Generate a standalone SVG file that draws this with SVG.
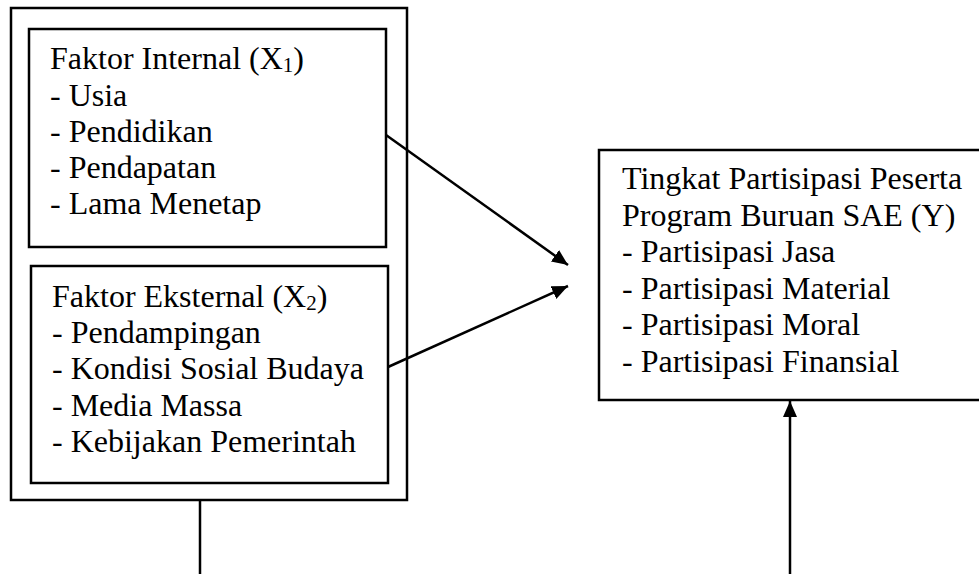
<svg xmlns="http://www.w3.org/2000/svg" width="979" height="574" viewBox="0 0 979 574">
<defs>
<style>
.box{fill:none;stroke:#000;stroke-width:2.5}
.t{font-family:"Liberation Serif","Times New Roman",serif;font-size:32px;fill:#000}
.sub{font-size:21px}
.ln{fill:none;stroke:#000;stroke-width:2.5}
</style>
<marker id="ah" markerUnits="userSpaceOnUse" markerWidth="18" markerHeight="16" refX="16" refY="7" orient="auto">
<path d="M0,0 L16,7 L0,14 Z" fill="#000"/>
</marker>
</defs>
<rect width="979" height="574" fill="#fff"/>
<g id="outer">
<rect class="box" x="11" y="8" width="396" height="492"/>
</g>
<g id="internal">
<rect class="box" x="29" y="29" width="357" height="218"/>
<text class="t" x="50" y="69">Faktor Internal (X<tspan class="sub" dy="3">1</tspan><tspan dy="-3">)</tspan></text>
<text class="t" x="50" y="105.5">- Usia</text>
<text class="t" x="50" y="142">- Pendidikan</text>
<text class="t" x="50" y="178">- Pendapatan</text>
<text class="t" x="50" y="214">- Lama Menetap</text>
</g>
<g id="eksternal">
<rect class="box" x="31" y="266" width="357" height="217"/>
<text class="t" x="52" y="307">Faktor Eksternal (X<tspan class="sub" dy="3">2</tspan><tspan dy="-3">)</tspan></text>
<text class="t" x="52" y="343">- Pendampingan</text>
<text class="t" x="52" y="379">- Kondisi Sosial Budaya</text>
<text class="t" x="52" y="416">- Media Massa</text>
<text class="t" x="52" y="452">- Kebijakan Pemerintah</text>
</g>
<g id="partisipasi">
<rect class="box" x="599" y="150" width="384" height="250"/>
<text class="t" x="622" y="189">Tingkat Partisipasi Peserta</text>
<text class="t" x="622" y="225.5">Program Buruan SAE (Y)</text>
<text class="t" x="622" y="262">- Partisipasi Jasa</text>
<text class="t" x="622" y="298.5">- Partisipasi Material</text>
<text class="t" x="622" y="335">- Partisipasi Moral</text>
<text class="t" x="622" y="371.5">- Partisipasi Finansial</text>
</g>
<g id="connectors">
<line class="ln" x1="386" y1="135" x2="568" y2="265" marker-end="url(#ah)"/>
<line class="ln" x1="388" y1="367" x2="568" y2="286" marker-end="url(#ah)"/>
<line class="ln" x1="790" y1="574" x2="790" y2="401" marker-end="url(#ah)"/>
<line class="ln" x1="200" y1="500" x2="200" y2="574"/>
</g>
</svg>
